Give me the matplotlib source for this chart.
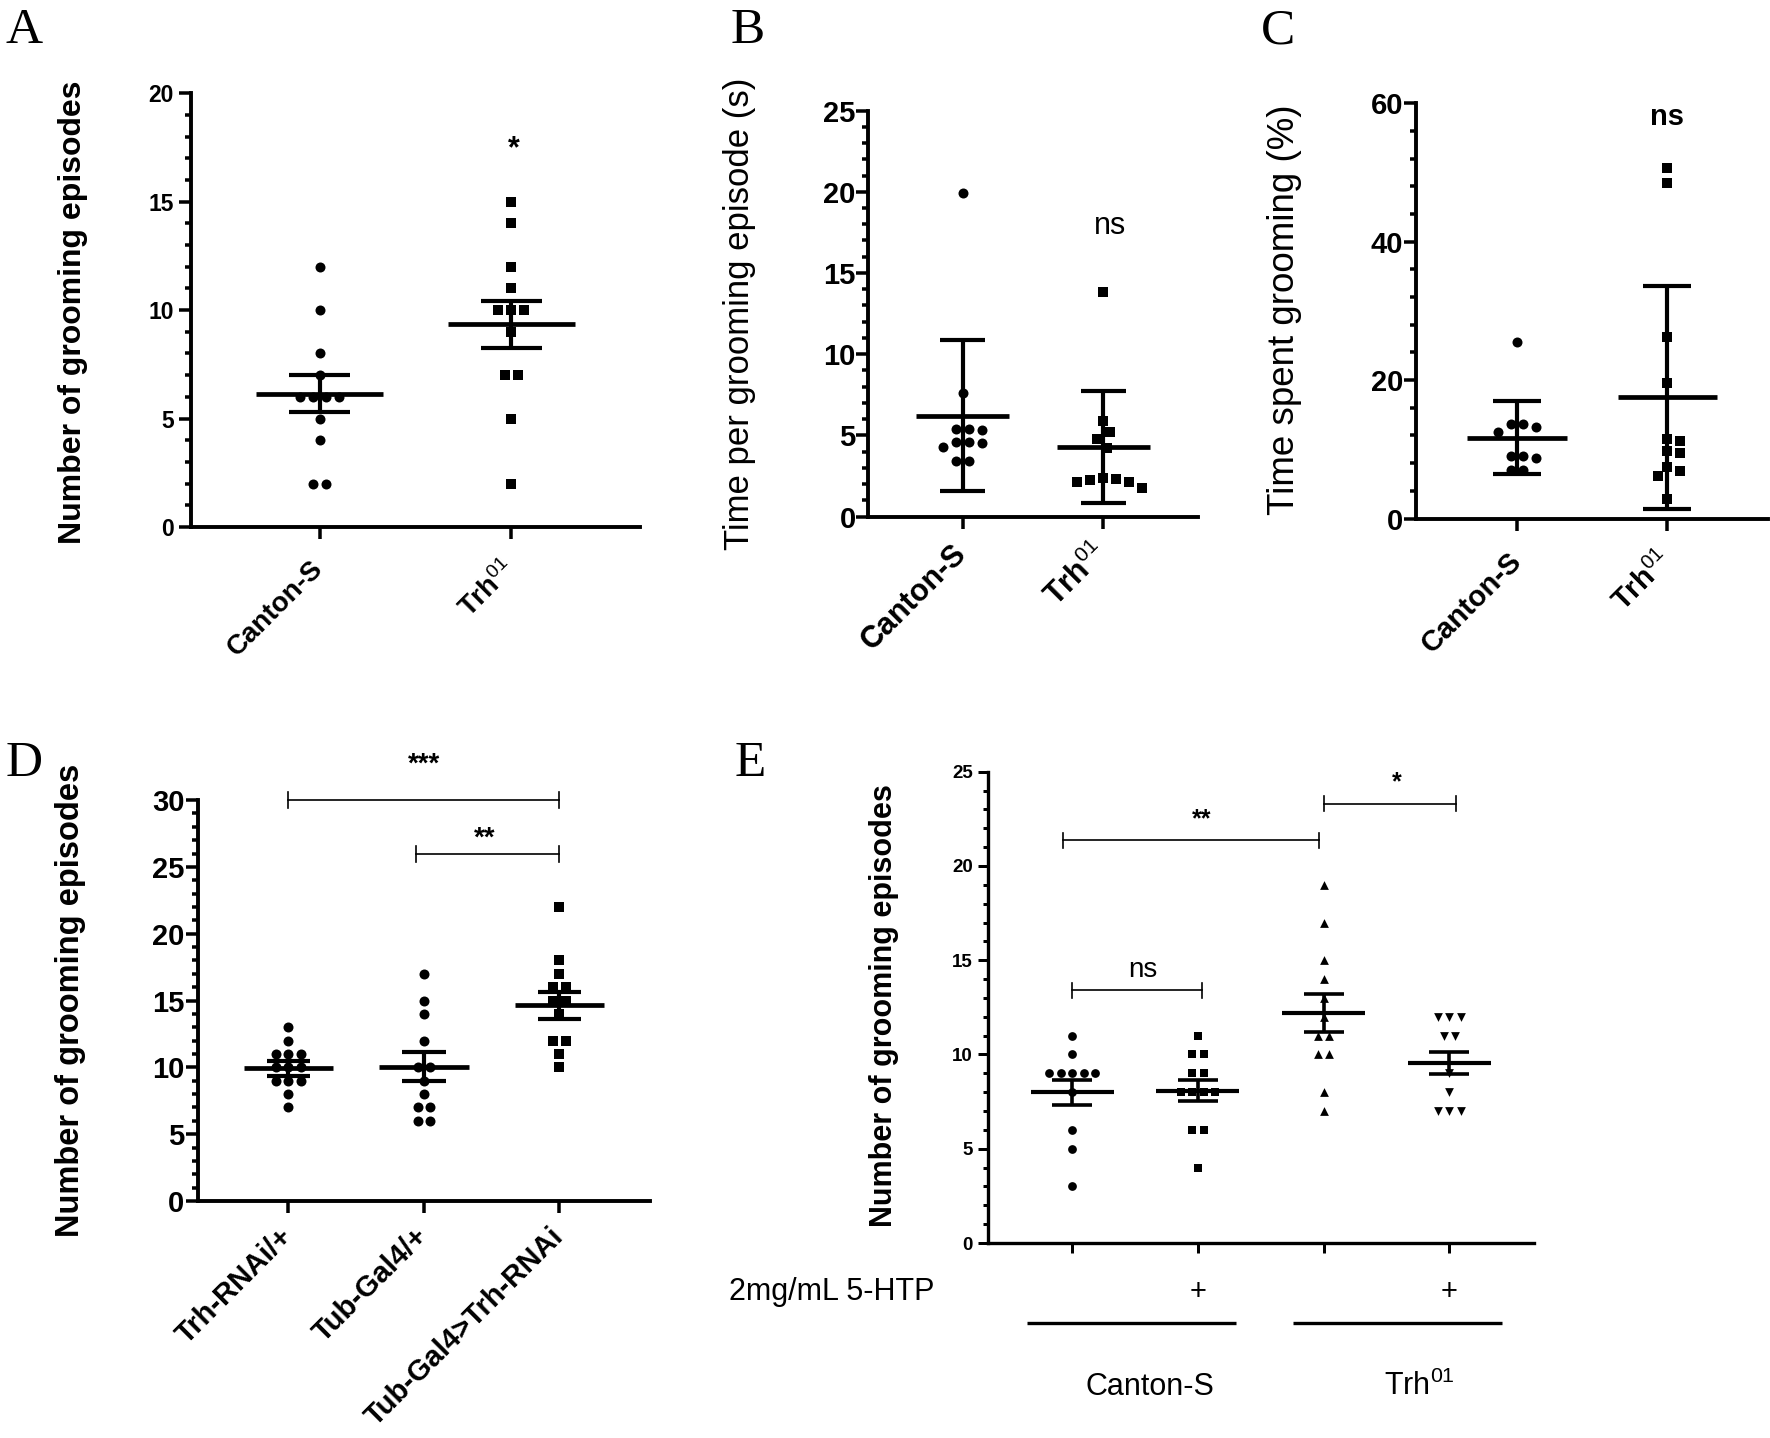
import numpy as np
import matplotlib.pyplot as plt

plt.rcParams['font.family'] = ['Liberation Sans', 'DejaVu Sans']
plt.rcParams['mathtext.fontset'] = 'custom'
plt.rcParams['mathtext.rm'] = 'Liberation Sans'
plt.rcParams['mathtext.it'] = 'Liberation Sans:italic'
plt.rcParams['mathtext.bf'] = 'Liberation Sans:bold'

TRH = 'Trh$^{\\mathit{01}}$'

# ---------------- data ----------------
# A: number of grooming episodes (mean +/- SEM)
a_labels = ['Canton-S', TRH]
a_canton = [12, 10, 8, 7, 6, 6, 6, 6, 5, 4, 2, 2]
a_trh = [15, 14, 12, 11, 10, 10, 10, 9, 7, 7, 5, 2]
a_mean = [6.14, 9.34]
a_err = [0.85, 1.08]

# B: time per grooming episode (mean +/- SD)
b_labels = ['Canton-S', TRH]
b_canton = [19.9, 7.6, 5.4, 5.3, 5.4, 4.6, 4.3, 4.6, 4.5, 3.4, 3.4]
b_trh = [13.8, 5.9, 5.2, 4.8, 4.2, 2.3, 2.1, 1.75, 2.15, 2.25, 2.4]
b_mean = [6.22, 4.28]
b_err = [4.65, 3.47]

# C: time spent grooming % (mean +/- SD)
c_labels = ['Canton-S', TRH]
c_canton = [25.5, 13.6, 13.6, 13.2, 12.5, 9.1, 9.1, 8.7, 7.0, 7.0]
c_trh = [50.6, 48.4, 26.2, 19.6, 11.5, 11.2, 9.4, 9.7, 6.9, 7.5, 6.1, 2.8]
c_mean = [11.7, 17.5]
c_err = [5.3, 16.1]

# D: RNAi knock-down (mean +/- SEM)
d_labels = ['Trh-RNAi/+', 'Tub-Gal4/+', 'Tub-Gal4>Trh-RNAi']
d_rnai = [13, 12, 11, 11, 11, 10, 10, 10, 9, 9, 9, 8, 7]
d_gal4 = [17, 15, 14, 12, 10, 10, 9, 8, 7, 7, 6, 6]
d_cross = [22, 18, 17, 16, 16, 15, 15, 14, 12, 12, 11, 10]
d_mean = [9.94, 10.05, 14.64]
d_err = [0.55, 1.1, 1.0]

# E: 5-HTP rescue (mean +/- SEM)
e_cs = [11, 10, 9, 9, 9, 9, 9, 8, 6, 5, 3]
e_cs_htp = [11, 10, 10, 9, 9, 8, 8, 8, 8, 6, 6, 4]
e_trh = [19, 17, 15, 14, 13, 12, 11, 11, 10, 10, 8, 7]
e_trh_htp = [12, 12, 12, 11, 11, 9, 8, 7, 7, 7]
e_mean = [7.99, 8.07, 12.2, 9.55]
e_err = [0.67, 0.56, 1.03, 0.6]
e_htp = ['', '+', '', '+']

W, H = 1770, 1438
fig = plt.figure(figsize=(W / 100, H / 100), dpi=100)


def add_ax(x0, x1, ytop, ybot):
    return fig.add_axes([x0 / W, 1 - ybot / H, (x1 - x0) / W, (ybot - ytop) / H])


def swarm(vals, ppy, d):
    # simple deterministic beeswarm, offsets in pixels
    vals = np.asarray(vals, float)
    offs = np.zeros(len(vals))
    placed = []
    for u in sorted(set(vals), reverse=True):
        idx = np.where(vals == u)[0]
        n = len(idx)
        base = (np.arange(n) - (n - 1) / 2) * d
        yp = u * ppy
        cand = base
        for k in range(80):
            shift = ((k + 1) // 2) * (1 if k % 2 else -1) * d / 4
            cand = base + shift
            if all(np.hypot(c - px, yp - py) >= 0.97 * d for c in cand for px, py in placed):
                break
        offs[idx] = cand
        placed += [(c, yp) for c in cand]
    return offs


def dots(ax, groups, markers, means, errs, ppx, ppy, d, ms, lw_m, lw_e):
    for i, (vals, mk, m, e) in enumerate(zip(groups, markers, means, errs)):
        offs = swarm(vals, ppy, d) / ppx
        ax.scatter(i + offs, vals, marker=mk, s=ms ** 2, c='k', linewidths=0, zorder=3)
        ax.hlines(m, i - 0.33, i + 0.33, color='k', lw=lw_m, zorder=4)
        ax.vlines(i, m - e, m + e, color='k', lw=lw_e, zorder=4)
        ax.hlines([m - e, m + e], i - 0.16, i + 0.16, color='k', lw=lw_e, zorder=4)


def style(ax, ncat, ymax, major, minor, lw, fs, pad, tlen, bold=True):
    ax.set_xlim(-0.67, ncat - 1 + 0.67)
    ax.set_ylim(0, ymax)
    for s in ['top', 'right']:
        ax.spines[s].set_visible(False)
    for s in ['left', 'bottom']:
        ax.spines[s].set_linewidth(lw)
    yt = np.arange(0, ymax + 0.01, major)
    ax.set_yticks(yt)
    ax.set_yticklabels([f'{v:g}' for v in yt], fontsize=fs,
                       fontweight='bold' if bold else 'normal')
    ax.set_yticks(np.arange(0, ymax + 0.01, minor), minor=True)
    ax.set_xticks(range(ncat))
    ax.tick_params(axis='both', which='major', length=tlen, width=lw * 0.9,
                   direction='out')
    ax.tick_params(axis='y', which='major', pad=pad)
    ax.tick_params(axis='y', which='minor', length=tlen * 0.5, width=lw * 0.9)
    ax.patch.set_alpha(0)


def xlabels(ax, labels, fs, pad):
    ax.set_xticklabels(labels, rotation=45, ha='right', va='center',
                       rotation_mode='anchor', fontweight='bold', fontsize=fs)
    ax.tick_params(axis='x', pad=pad)


def mark(ax, x, y, s, fs, weight='bold', kind='star'):
    # y is the vertical centre of the glyphs
    k = 0.575 if kind == 'star' else 0.26
    ax.annotate(s, (x, y), xytext=(0, -k * fs), textcoords='offset points',
                ha='center', va='baseline', fontsize=fs, fontweight=weight,
                annotation_clip=False)


def bracket(ax, x0, x1, y, cap, lw):
    ax.plot([x0, x1], [y, y], color='k', lw=lw, clip_on=False)
    ax.plot([x0, x0], [y - cap, y + cap], color='k', lw=lw, clip_on=False)
    ax.plot([x1, x1], [y - cap, y + cap], color='k', lw=lw, clip_on=False)


def letter(x, y, s):
    fig.text(x / W, 1 - y / H, s, fontsize=37, family='Liberation Serif',
             ha='left', va='baseline')


def ylab(x, y, s, fs, weight):
    fig.text(x / W, 1 - y / H, s, fontsize=fs, fontweight=weight, rotation=90,
             ha='center', va='center')


# ---------------- A ----------------
axA = add_ax(191, 640, 93.2, 527)
style(axA, 2, 20, 5, 1, 2.8, 16.5, 4, 8.5)
xlabels(axA, a_labels, 20, 19)
dots(axA, [a_canton, a_trh], ['o', 's'], a_mean, a_err,
     191.8, 21.69, 13, 7.2, 3.4, 3.0)
mark(axA, 1.01, 17.86, '*', 22)
ylab(73, 312, 'Number of grooming episodes', 23, 'bold')
letter(5, 43, 'A')

# ---------------- B ----------------
axB = add_ax(868.2, 1197.7, 110.6, 516.5)
style(axB, 2, 25, 5, 1, 2.8, 21, 0.5, 8.5)
xlabels(axB, b_labels, 22, 15)
dots(axB, [b_canton, b_trh], ['o', 's'], b_mean, b_err,
     141.1, 16.24, 13, 7.2, 3.4, 3.0)
mark(axB, 1.05, 17.9, 'ns', 22, weight='normal', kind='x')
ylab(740, 314, 'Time per grooming episode (s)', 25, 'normal')
letter(731, 43, 'B')

# ---------------- C ----------------
axC = add_ax(1416.3, 1768, 103.2, 518.5)
style(axC, 2, 60, 20, 4, 2.8, 21, 1, 8.5)
xlabels(axC, c_labels, 21, 19)
dots(axC, [c_canton, c_trh], ['o', 's'], c_mean, c_err,
     150.2, 6.92, 12.5, 7.2, 3.4, 3.0)
mark(axC, 1.0, 58.0, 'ns', 21, weight='bold', kind='x')
ylab(1285, 310, 'Time spent grooming (%)', 26.5, 'normal')
letter(1261, 43, 'C')

# ---------------- D ----------------
axD = add_ax(197.7, 650, 800.1, 1201)
style(axD, 3, 30, 5, 1, 2.8, 21, 1, 8.5)
xlabels(axD, d_labels, 21, 14)
dots(axD, [d_rnai, d_gal4, d_cross], ['o', 'o', 's'], d_mean, d_err,
     135.4, 13.36, 12.5, 7.2, 3.4, 3.0)
bracket(axD, 0, 2, 30, 0.6, 1.2)
bracket(axD, 0.94, 2, 26, 0.6, 1.2)
mark(axD, 1.0, 33.35, '***', 20)
mark(axD, 1.45, 27.8, '**', 20)
ylab(71, 1000, 'Number of grooming episodes', 23.5, 'bold')
letter(6, 776, 'D')

# ---------------- E ----------------
axE = add_ax(988, 1533.6, 771.7, 1243)
style(axE, 4, 25, 5, 1, 2.4, 13.5, 3.5, 7.5)
axE.set_xticklabels([])
dots(axE, [e_cs, e_cs_htp, e_trh, e_trh_htp], ['o', 's', '^', 'v'], e_mean, e_err,
     125.2, 18.85, 11.5, 6.3, 3.0, 2.6)
bracket(axE, 0, 1.03, 13.41, 0.4, 1.2)
bracket(axE, -0.075, 1.96, 21.36, 0.4, 1.2)
bracket(axE, 2.0, 3.05, 23.3, 0.4, 1.2)
mark(axE, 0.56, 14.5, 'ns', 20, weight='normal', kind='x')
mark(axE, 1.03, 22.85, '**', 18)
mark(axE, 2.58, 24.85, '*', 18)
ylab(884, 1006, 'Number of grooming episodes', 22, 'bold')
letter(735, 776, 'E')

tr = axE.get_xaxis_transform()
axE.text(-2.73, -0.103, '2mg/mL 5-HTP', transform=tr, fontsize=22,
         ha='left', va='center', clip_on=False)
for i, s in enumerate(e_htp):
    if s:
        axE.text(i, -0.103, s, transform=tr, fontsize=21, ha='center',
                 va='center', clip_on=False)
axE.plot([-0.36, 1.30], [-0.169, -0.169], transform=tr, color='k', lw=2.4,
         clip_on=False, solid_capstyle='butt')
axE.plot([1.76, 3.42], [-0.169, -0.169], transform=tr, color='k', lw=2.4,
         clip_on=False, solid_capstyle='butt')
axE.text(0.62, -0.305, 'Canton-S', transform=tr, fontsize=22, ha='center',
         va='center', clip_on=False)
axE.text(2.76, -0.305, 'Trh$^{01}$', transform=tr, fontsize=22, ha='center',
         va='center', clip_on=False)

fig.savefig('out.png', dpi=100)
